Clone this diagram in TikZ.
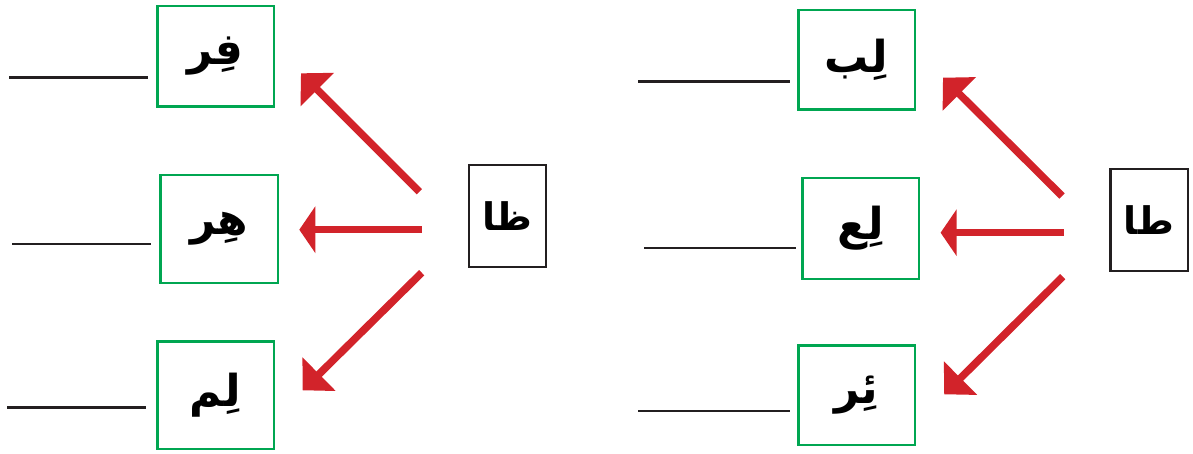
\documentclass[tikz,border=0pt]{standalone}
\usepackage{fontspec}
\usetikzlibrary{arrows.meta}
\TeXXeTstate=1
\newfontfamily\arabicfont[Script=Arabic]{DejaVu Sans}
\definecolor{arrowred}{RGB}{210,35,42}
\definecolor{boxgreen}{RGB}{0,166,81}
\definecolor{ink}{RGB}{35,31,32}
% right-to-left Arabic word
\newcommand{\arword}[1]{{\arabicfont\bfseries\beginR #1\endR}}

\begin{document}
\begin{tikzpicture}[x=1pt,y=-1pt,
  wordbox/.style={draw=boxgreen, line width=2.5pt, inner sep=0pt,
    font=\fontsize{44}{48}\selectfont},
  letterbox/.style={draw=ink, line width=2.5pt, inner sep=0pt,
    minimum width=77pt, minimum height=101.5pt,
    font=\fontsize{38}{42}\selectfont},
  blank/.style={draw=ink, line width=2.5pt},
  pointer/.style={draw=arrowred, line width=7.5pt,
    -{Triangle[length=16pt,width=46pt]}},
  slant/.style={draw=arrowred, line width=7.5pt,
    -{Triangle[length=23pt,width=46pt]}}
]
\useasboundingbox (0,0) rectangle (1193,454);

% ---- left group: letter ظا ----
\node[wordbox, minimum width=116.5pt, minimum height=100.5pt] (fir) at (215.5,56.3) {\arword{فِر}};
\node[wordbox, minimum width=117.5pt, minimum height=107.5pt] (hir) at (219,229) {\arword{هِر}};
\node[wordbox, minimum width=116.5pt, minimum height=107.5pt] (lim) at (215.5,395) {\arword{لِم}};
\node[letterbox] (zaa) at (507.5,216) {\arword{ظا}};

\coordinate (za1) at (419.3,191.7); \coordinate (za2) at (301,73.3);
\coordinate (zb1) at (421.7,229.7); \coordinate (zb2) at (299.3,229.7);
\coordinate (zc1) at (421.7,272.7); \coordinate (zc2) at (302.7,390.3);
\draw[slant] (za1) -- (za2);
\draw[pointer] (zb1) -- (zb2);
\draw[slant] (zc1) -- (zc2);

\coordinate (la1) at (9.3,77.7);  \coordinate (la2) at (147.7,77.7);
\coordinate (lb1) at (12.3,244);  \coordinate (lb2) at (150.7,244);
\coordinate (lc1) at (7.3,407.3); \coordinate (lc2) at (145.7,407.3);
\draw[blank] (la1) -- (la2);
\draw[blank] (lb1) -- (lb2);
\draw[blank] (lc1) -- (lc2);

% ---- right group: letter طا ----
\node[wordbox, minimum width=116.5pt, minimum height=99.5pt] (lib) at (856.5,60) {\arword{لِب}};
\node[wordbox, minimum width=116.5pt, minimum height=100.5pt] (lia) at (860.5,228.5) {\arword{لِع}};
\node[wordbox, minimum width=116.5pt, minimum height=99.5pt] (yir) at (856.5,395) {\arword{ئِر}};
\node[letterbox, minimum width=77.5pt] (taa) at (1149,220) {\arword{طا}};

\coordinate (ta1) at (1062,196);     \coordinate (ta2) at (943,77.7);
\coordinate (tb1) at (1063.8,232.7); \coordinate (tb2) at (940.6,232.7);
\coordinate (tc1) at (1062.7,276.7); \coordinate (tc2) at (944.2,394.3);
\draw[slant] (ta1) -- (ta2);
\draw[pointer] (tb1) -- (tb2);
\draw[slant] (tc1) -- (tc2);

\coordinate (ra1) at (638.3,81.7); \coordinate (ra2) at (790,81.7);
\coordinate (rb1) at (644.3,248);  \coordinate (rb2) at (795.7,248);
\coordinate (rc1) at (638.3,411);  \coordinate (rc2) at (790,411);
\draw[blank] (ra1) -- (ra2);
\draw[blank] (rb1) -- (rb2);
\draw[blank] (rc1) -- (rc2);
\end{tikzpicture}
\end{document}
